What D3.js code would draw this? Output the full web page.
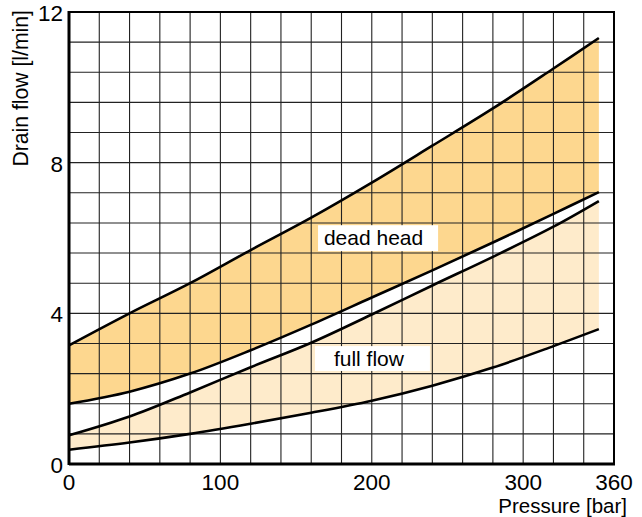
<!DOCTYPE html>
<html>
<head>
<meta charset="utf-8">
<script src="https://cdn.jsdelivr.net/npm/d3@7"></script>
<style>
    body { margin: 0; background: #fff; }
    text { font-family: "Liberation Sans", Arial, sans-serif; fill: #000; }
</style>
</head>
<body>
<div id="chart"></div>
<script>
// Data
const pressure = [0, 40, 80, 120, 160, 200, 240, 280, 320, 350];
const deadHeadHigh = [3.15, 4.0, 4.8, 5.68, 6.54, 7.47, 8.45, 9.44, 10.5, 11.31];
const deadHeadLow = [1.6, 1.92, 2.4, 3.02, 3.7, 4.42, 5.14, 5.88, 6.64, 7.22];
const fullFlowHigh = [0.76, 1.26, 1.9, 2.57, 3.22, 3.97, 4.74, 5.5, 6.3, 6.98];
const fullFlowLow = [0.38, 0.57, 0.8, 1.07, 1.36, 1.68, 2.08, 2.56, 3.13, 3.58];

const xTicks = [0, 100, 200, 300, 360];
const yTicks = [0, 4, 8, 12];

// label boxes: [p0, p1] x [v0, v1] in data units, text start / baseline
const labels = [
    { text: "dead head", box: [164.5, 243.8, 5.65, 6.34], p: 168.4, v: 5.81 },
    { text: "full flow", box: [162.5, 238.4, 2.47, 3.13], p: 175, v: 2.6 }
];

const width = 642, height = 517;
const margin = { top: 12, right: 28, bottom: 53, left: 69 };
const w = width - margin.left - margin.right;
const h = height - margin.top - margin.bottom;

const svg = d3.select("#chart").append("svg")
    .attr("width", width)
    .attr("height", height);

const g = svg.append("g")
    .attr("transform", `translate(${margin.left},${margin.top})`);

const x = d3.scaleLinear().domain([0, 360]).range([0, w]);
const y = d3.scaleLinear().domain([0, 12]).range([h, 0]);

const curve = d3.curveCatmullRom.alpha(0.5);

const band = (hi, lo) => d3.area()
    .x((d, i) => x(pressure[i]))
    .y0((d, i) => y(lo[i]))
    .y1((d, i) => y(hi[i]))
    .curve(curve);

const line = vals => d3.line()
    .x((d, i) => x(pressure[i]))
    .y((d, i) => y(vals[i]))
    .curve(curve);

// bands
g.append("path")
    .datum(pressure)
    .attr("d", band(deadHeadHigh, deadHeadLow))
    .attr("fill", "#fdd78f");

g.append("path")
    .datum(pressure)
    .attr("d", band(fullFlowHigh, fullFlowLow))
    .attr("fill", "#feebcb");

// grid, every 20 bar and 0.8 l/min
const xGrid = d3.range(20, 360, 20);
const yGrid = d3.range(1, 15).map(i => i * 0.8);

g.selectAll(".vgrid")
    .data(xGrid)
    .enter()
    .append("line")
    .attr("class", "vgrid")
    .attr("x1", d => x(d))
    .attr("x2", d => x(d))
    .attr("y1", 0)
    .attr("y2", h)
    .attr("stroke", "#222")
    .attr("stroke-width", 1.1);

g.selectAll(".hgrid")
    .data(yGrid)
    .enter()
    .append("line")
    .attr("class", "hgrid")
    .attr("x1", 0)
    .attr("x2", w)
    .attr("y1", d => y(d))
    .attr("y2", d => y(d))
    .attr("stroke", "#222")
    .attr("stroke-width", 1.1);

labels.forEach(l => {
    g.append("rect")
        .attr("x", x(l.box[0]))
        .attr("y", y(l.box[3]))
        .attr("width", x(l.box[1]) - x(l.box[0]))
        .attr("height", y(l.box[2]) - y(l.box[3]))
        .attr("fill", "#fff");
    g.append("text")
        .attr("x", x(l.p))
        .attr("y", y(l.v))
        .attr("font-size", 21)
        .text(l.text);
});

// curves
[deadHeadHigh, deadHeadLow, fullFlowHigh, fullFlowLow].forEach(vals => {
    g.append("path")
        .datum(pressure)
        .attr("d", line(vals))
        .attr("fill", "none")
        .attr("stroke", "#000")
        .attr("stroke-width", 2.6);
});

// frame
g.append("rect")
    .attr("x", 0)
    .attr("y", 0)
    .attr("width", w)
    .attr("height", h)
    .attr("fill", "none")
    .attr("stroke", "#000")
    .attr("stroke-width", 2);

g.append("line")
    .attr("x1", 0).attr("x2", 0)
    .attr("y1", -1).attr("y2", h + 1)
    .attr("stroke", "#000")
    .attr("stroke-width", 3);

g.append("line")
    .attr("x1", 0).attr("x2", w + 1)
    .attr("y1", h).attr("y2", h)
    .attr("stroke", "#000")
    .attr("stroke-width", 3);

// tick labels
g.selectAll(".xlab")
    .data(xTicks)
    .enter()
    .append("text")
    .attr("class", "xlab")
    .attr("x", d => x(d))
    .attr("y", h + 25.5)
    .attr("text-anchor", "middle")
    .attr("font-size", 22.5)
    .text(d => d);

g.selectAll(".ylab")
    .data(yTicks)
    .enter()
    .append("text")
    .attr("class", "ylab")
    .attr("x", -6)
    .attr("y", d => y(d) + 9)
    .attr("text-anchor", "end")
    .attr("font-size", 22.5)
    .text(d => d);

// axis titles
svg.append("text")
    .attr("x", 627)
    .attr("y", 512.5)
    .attr("text-anchor", "end")
    .attr("font-size", 20.5)
    .text("Pressure [bar]");

svg.append("text")
    .attr("transform", "translate(27.5,10) rotate(-90)")
    .attr("text-anchor", "end")
    .attr("font-size", 21.2)
    .text("Drain flow [l/min]");
</script>
</body>
</html>
